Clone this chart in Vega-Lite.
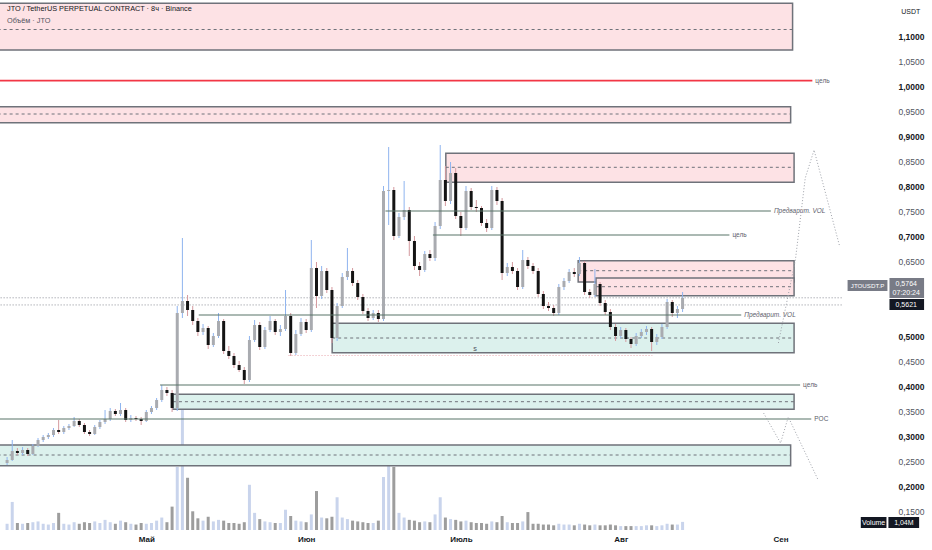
{
  "$schema": "https://vega.github.io/schema/vega-lite/v6.json",
  "width": 848,
  "height": 530,
  "autosize": {"type": "none"},
  "padding": {"left": 0, "top": 0, "right": 84, "bottom": 20},
  "background": "#ffffff",
  "config": {
    "view": {"stroke": null},
    "font": "Liberation Sans",
    "text": {"font": "Liberation Sans"}
  },
  "datasets": {
    "candles": [
      {"t": "2025-04-04", "o": 0.246, "h": 0.258, "l": 0.242, "c": 0.252, "v": 0.8},
      {"t": "2025-04-05", "o": 0.252, "h": 0.292, "l": 0.250, "c": 0.270, "v": 3.6},
      {"t": "2025-04-06", "o": 0.270, "h": 0.276, "l": 0.262, "c": 0.266, "v": 0.9},
      {"t": "2025-04-07", "o": 0.266, "h": 0.278, "l": 0.262, "c": 0.272, "v": 0.8},
      {"t": "2025-04-08", "o": 0.272, "h": 0.276, "l": 0.260, "c": 0.264, "v": 0.9},
      {"t": "2025-04-09", "o": 0.264, "h": 0.284, "l": 0.262, "c": 0.280, "v": 1.0},
      {"t": "2025-04-10", "o": 0.280, "h": 0.296, "l": 0.278, "c": 0.292, "v": 1.1},
      {"t": "2025-04-11", "o": 0.292, "h": 0.302, "l": 0.288, "c": 0.298, "v": 0.8},
      {"t": "2025-04-12", "o": 0.298, "h": 0.306, "l": 0.294, "c": 0.302, "v": 0.7},
      {"t": "2025-04-13", "o": 0.302, "h": 0.316, "l": 0.298, "c": 0.312, "v": 0.9},
      {"t": "2025-04-14", "o": 0.312, "h": 0.332, "l": 0.304, "c": 0.308, "v": 2.2},
      {"t": "2025-04-15", "o": 0.308, "h": 0.320, "l": 0.304, "c": 0.316, "v": 0.8},
      {"t": "2025-04-16", "o": 0.316, "h": 0.324, "l": 0.312, "c": 0.320, "v": 0.7},
      {"t": "2025-04-17", "o": 0.320, "h": 0.338, "l": 0.318, "c": 0.330, "v": 1.0},
      {"t": "2025-04-18", "o": 0.330, "h": 0.334, "l": 0.318, "c": 0.322, "v": 0.8},
      {"t": "2025-04-19", "o": 0.322, "h": 0.326, "l": 0.304, "c": 0.308, "v": 1.0},
      {"t": "2025-04-20", "o": 0.308, "h": 0.312, "l": 0.300, "c": 0.304, "v": 0.9},
      {"t": "2025-04-21", "o": 0.304, "h": 0.322, "l": 0.302, "c": 0.318, "v": 1.1},
      {"t": "2025-04-22", "o": 0.318, "h": 0.332, "l": 0.314, "c": 0.328, "v": 0.9},
      {"t": "2025-04-23", "o": 0.328, "h": 0.352, "l": 0.324, "c": 0.334, "v": 1.3},
      {"t": "2025-04-24", "o": 0.334, "h": 0.356, "l": 0.330, "c": 0.350, "v": 1.0},
      {"t": "2025-04-25", "o": 0.350, "h": 0.354, "l": 0.340, "c": 0.344, "v": 0.8},
      {"t": "2025-04-26", "o": 0.344, "h": 0.366, "l": 0.340, "c": 0.352, "v": 1.2},
      {"t": "2025-04-27", "o": 0.352, "h": 0.356, "l": 0.328, "c": 0.332, "v": 1.0},
      {"t": "2025-04-28", "o": 0.332, "h": 0.342, "l": 0.328, "c": 0.336, "v": 0.8},
      {"t": "2025-04-29", "o": 0.336, "h": 0.340, "l": 0.330, "c": 0.334, "v": 0.7},
      {"t": "2025-04-30", "o": 0.334, "h": 0.338, "l": 0.322, "c": 0.330, "v": 0.9},
      {"t": "2025-05-01", "o": 0.330, "h": 0.352, "l": 0.328, "c": 0.348, "v": 0.8},
      {"t": "2025-05-02", "o": 0.348, "h": 0.360, "l": 0.344, "c": 0.356, "v": 0.9},
      {"t": "2025-05-03", "o": 0.356, "h": 0.376, "l": 0.352, "c": 0.372, "v": 1.2},
      {"t": "2025-05-04", "o": 0.372, "h": 0.402, "l": 0.368, "c": 0.392, "v": 1.6},
      {"t": "2025-05-05", "o": 0.392, "h": 0.398, "l": 0.380, "c": 0.386, "v": 1.0},
      {"t": "2025-05-06", "o": 0.386, "h": 0.392, "l": 0.348, "c": 0.356, "v": 3.0},
      {"t": "2025-05-07", "o": 0.356, "h": 0.560, "l": 0.350, "c": 0.546, "v": 8.1},
      {"t": "2025-05-08", "o": 0.546, "h": 0.696, "l": 0.536, "c": 0.570, "v": 17.0},
      {"t": "2025-05-09", "o": 0.570, "h": 0.582, "l": 0.540, "c": 0.552, "v": 6.7},
      {"t": "2025-05-10", "o": 0.552, "h": 0.560, "l": 0.522, "c": 0.530, "v": 2.4},
      {"t": "2025-05-11", "o": 0.530, "h": 0.536, "l": 0.500, "c": 0.508, "v": 1.5},
      {"t": "2025-05-12", "o": 0.508, "h": 0.524, "l": 0.502, "c": 0.516, "v": 1.2},
      {"t": "2025-05-13", "o": 0.516, "h": 0.520, "l": 0.474, "c": 0.482, "v": 1.7},
      {"t": "2025-05-14", "o": 0.482, "h": 0.506, "l": 0.478, "c": 0.500, "v": 1.1},
      {"t": "2025-05-15", "o": 0.500, "h": 0.546, "l": 0.496, "c": 0.530, "v": 1.3},
      {"t": "2025-05-16", "o": 0.530, "h": 0.534, "l": 0.464, "c": 0.470, "v": 1.2},
      {"t": "2025-05-17", "o": 0.470, "h": 0.480, "l": 0.454, "c": 0.460, "v": 0.9},
      {"t": "2025-05-18", "o": 0.460, "h": 0.466, "l": 0.436, "c": 0.442, "v": 0.9},
      {"t": "2025-05-19", "o": 0.442, "h": 0.450, "l": 0.428, "c": 0.432, "v": 0.8},
      {"t": "2025-05-20", "o": 0.432, "h": 0.438, "l": 0.404, "c": 0.412, "v": 1.0},
      {"t": "2025-05-21", "o": 0.412, "h": 0.500, "l": 0.408, "c": 0.492, "v": 5.8},
      {"t": "2025-05-22", "o": 0.492, "h": 0.532, "l": 0.488, "c": 0.522, "v": 2.2},
      {"t": "2025-05-23", "o": 0.522, "h": 0.528, "l": 0.472, "c": 0.478, "v": 1.4},
      {"t": "2025-05-24", "o": 0.478, "h": 0.518, "l": 0.474, "c": 0.512, "v": 1.1},
      {"t": "2025-05-25", "o": 0.512, "h": 0.540, "l": 0.508, "c": 0.530, "v": 1.0},
      {"t": "2025-05-26", "o": 0.530, "h": 0.534, "l": 0.502, "c": 0.508, "v": 0.9},
      {"t": "2025-05-27", "o": 0.508, "h": 0.522, "l": 0.500, "c": 0.514, "v": 0.9},
      {"t": "2025-05-28", "o": 0.514, "h": 0.592, "l": 0.510, "c": 0.540, "v": 2.6},
      {"t": "2025-05-29", "o": 0.540, "h": 0.546, "l": 0.460, "c": 0.466, "v": 1.8},
      {"t": "2025-05-30", "o": 0.466, "h": 0.512, "l": 0.462, "c": 0.504, "v": 1.2},
      {"t": "2025-05-31", "o": 0.504, "h": 0.536, "l": 0.500, "c": 0.528, "v": 1.1},
      {"t": "2025-06-01", "o": 0.528, "h": 0.534, "l": 0.506, "c": 0.512, "v": 1.0},
      {"t": "2025-06-02", "o": 0.512, "h": 0.692, "l": 0.508, "c": 0.636, "v": 2.0},
      {"t": "2025-06-03", "o": 0.636, "h": 0.648, "l": 0.556, "c": 0.580, "v": 5.0},
      {"t": "2025-06-04", "o": 0.580, "h": 0.640, "l": 0.574, "c": 0.630, "v": 1.6},
      {"t": "2025-06-05", "o": 0.630, "h": 0.636, "l": 0.586, "c": 0.592, "v": 1.5},
      {"t": "2025-06-06", "o": 0.592, "h": 0.598, "l": 0.486, "c": 0.496, "v": 1.7},
      {"t": "2025-06-07", "o": 0.496, "h": 0.566, "l": 0.490, "c": 0.560, "v": 4.2},
      {"t": "2025-06-08", "o": 0.560, "h": 0.626, "l": 0.556, "c": 0.618, "v": 1.6},
      {"t": "2025-06-09", "o": 0.618, "h": 0.676, "l": 0.612, "c": 0.630, "v": 1.4},
      {"t": "2025-06-10", "o": 0.630, "h": 0.636, "l": 0.600, "c": 0.606, "v": 1.2},
      {"t": "2025-06-11", "o": 0.606, "h": 0.612, "l": 0.572, "c": 0.578, "v": 1.1},
      {"t": "2025-06-12", "o": 0.578, "h": 0.584, "l": 0.544, "c": 0.550, "v": 1.0},
      {"t": "2025-06-13", "o": 0.550, "h": 0.556, "l": 0.530, "c": 0.536, "v": 0.9},
      {"t": "2025-06-14", "o": 0.536, "h": 0.552, "l": 0.532, "c": 0.546, "v": 0.9},
      {"t": "2025-06-15", "o": 0.546, "h": 0.552, "l": 0.528, "c": 0.534, "v": 1.2},
      {"t": "2025-06-16", "o": 0.534, "h": 0.800, "l": 0.530, "c": 0.790, "v": 6.8},
      {"t": "2025-06-17", "o": 0.790, "h": 0.878, "l": 0.722, "c": 0.792, "v": 8.6},
      {"t": "2025-06-18", "o": 0.792, "h": 0.798, "l": 0.692, "c": 0.700, "v": 8.1},
      {"t": "2025-06-19", "o": 0.700, "h": 0.746, "l": 0.696, "c": 0.738, "v": 2.2},
      {"t": "2025-06-20", "o": 0.738, "h": 0.810, "l": 0.732, "c": 0.752, "v": 1.6},
      {"t": "2025-06-21", "o": 0.752, "h": 0.758, "l": 0.660, "c": 0.690, "v": 1.3},
      {"t": "2025-06-22", "o": 0.690, "h": 0.700, "l": 0.632, "c": 0.640, "v": 1.2},
      {"t": "2025-06-23", "o": 0.640, "h": 0.648, "l": 0.620, "c": 0.632, "v": 1.0},
      {"t": "2025-06-24", "o": 0.632, "h": 0.670, "l": 0.628, "c": 0.664, "v": 1.1},
      {"t": "2025-06-25", "o": 0.664, "h": 0.672, "l": 0.650, "c": 0.656, "v": 1.0},
      {"t": "2025-06-26", "o": 0.656, "h": 0.728, "l": 0.650, "c": 0.720, "v": 2.0},
      {"t": "2025-06-27", "o": 0.720, "h": 0.882, "l": 0.714, "c": 0.812, "v": 4.2},
      {"t": "2025-06-28", "o": 0.812, "h": 0.840, "l": 0.760, "c": 0.770, "v": 1.6},
      {"t": "2025-06-29", "o": 0.770, "h": 0.848, "l": 0.764, "c": 0.826, "v": 1.4},
      {"t": "2025-06-30", "o": 0.826, "h": 0.836, "l": 0.734, "c": 0.740, "v": 1.3},
      {"t": "2025-07-01", "o": 0.740, "h": 0.748, "l": 0.700, "c": 0.716, "v": 1.1},
      {"t": "2025-07-02", "o": 0.716, "h": 0.800, "l": 0.712, "c": 0.790, "v": 1.2},
      {"t": "2025-07-03", "o": 0.790, "h": 0.796, "l": 0.752, "c": 0.758, "v": 1.0},
      {"t": "2025-07-04", "o": 0.758, "h": 0.772, "l": 0.748, "c": 0.756, "v": 0.9},
      {"t": "2025-07-05", "o": 0.756, "h": 0.760, "l": 0.720, "c": 0.726, "v": 0.9},
      {"t": "2025-07-06", "o": 0.726, "h": 0.734, "l": 0.708, "c": 0.716, "v": 0.8},
      {"t": "2025-07-07", "o": 0.716, "h": 0.800, "l": 0.712, "c": 0.792, "v": 1.1},
      {"t": "2025-07-08", "o": 0.792, "h": 0.798, "l": 0.762, "c": 0.770, "v": 1.0},
      {"t": "2025-07-09", "o": 0.770, "h": 0.776, "l": 0.612, "c": 0.626, "v": 1.8},
      {"t": "2025-07-10", "o": 0.626, "h": 0.646, "l": 0.620, "c": 0.638, "v": 1.0},
      {"t": "2025-07-11", "o": 0.638, "h": 0.648, "l": 0.624, "c": 0.630, "v": 0.9},
      {"t": "2025-07-12", "o": 0.630, "h": 0.636, "l": 0.592, "c": 0.598, "v": 0.9},
      {"t": "2025-07-13", "o": 0.598, "h": 0.672, "l": 0.594, "c": 0.652, "v": 1.1},
      {"t": "2025-07-14", "o": 0.652, "h": 0.658, "l": 0.634, "c": 0.640, "v": 2.3},
      {"t": "2025-07-15", "o": 0.640, "h": 0.646, "l": 0.624, "c": 0.630, "v": 0.8},
      {"t": "2025-07-16", "o": 0.630, "h": 0.636, "l": 0.578, "c": 0.584, "v": 0.8},
      {"t": "2025-07-17", "o": 0.584, "h": 0.590, "l": 0.554, "c": 0.560, "v": 0.7},
      {"t": "2025-07-18", "o": 0.560, "h": 0.568, "l": 0.550, "c": 0.556, "v": 0.7},
      {"t": "2025-07-19", "o": 0.556, "h": 0.562, "l": 0.540, "c": 0.546, "v": 0.6},
      {"t": "2025-07-20", "o": 0.546, "h": 0.604, "l": 0.542, "c": 0.598, "v": 0.8},
      {"t": "2025-07-21", "o": 0.598, "h": 0.616, "l": 0.592, "c": 0.610, "v": 0.7},
      {"t": "2025-07-22", "o": 0.610, "h": 0.634, "l": 0.606, "c": 0.628, "v": 0.7},
      {"t": "2025-07-23", "o": 0.628, "h": 0.636, "l": 0.618, "c": 0.624, "v": 0.6},
      {"t": "2025-07-24", "o": 0.624, "h": 0.658, "l": 0.620, "c": 0.646, "v": 0.8},
      {"t": "2025-07-25", "o": 0.646, "h": 0.650, "l": 0.582, "c": 0.588, "v": 0.7},
      {"t": "2025-07-26", "o": 0.588, "h": 0.594, "l": 0.576, "c": 0.582, "v": 0.6},
      {"t": "2025-07-27", "o": 0.582, "h": 0.634, "l": 0.578, "c": 0.604, "v": 0.7},
      {"t": "2025-07-28", "o": 0.604, "h": 0.608, "l": 0.560, "c": 0.566, "v": 0.6},
      {"t": "2025-07-29", "o": 0.566, "h": 0.572, "l": 0.542, "c": 0.548, "v": 0.6},
      {"t": "2025-07-30", "o": 0.548, "h": 0.554, "l": 0.512, "c": 0.518, "v": 0.7},
      {"t": "2025-07-31", "o": 0.518, "h": 0.524, "l": 0.490, "c": 0.500, "v": 0.6},
      {"t": "2025-08-01", "o": 0.500, "h": 0.518, "l": 0.496, "c": 0.512, "v": 0.5},
      {"t": "2025-08-02", "o": 0.512, "h": 0.516, "l": 0.488, "c": 0.494, "v": 0.5},
      {"t": "2025-08-03", "o": 0.494, "h": 0.498, "l": 0.476, "c": 0.484, "v": 0.5},
      {"t": "2025-08-04", "o": 0.484, "h": 0.506, "l": 0.480, "c": 0.500, "v": 0.5},
      {"t": "2025-08-05", "o": 0.500, "h": 0.514, "l": 0.496, "c": 0.508, "v": 0.5},
      {"t": "2025-08-06", "o": 0.508, "h": 0.520, "l": 0.502, "c": 0.514, "v": 0.6},
      {"t": "2025-08-07", "o": 0.514, "h": 0.518, "l": 0.470, "c": 0.488, "v": 0.6},
      {"t": "2025-08-08", "o": 0.488, "h": 0.504, "l": 0.482, "c": 0.498, "v": 0.5},
      {"t": "2025-08-09", "o": 0.498, "h": 0.524, "l": 0.494, "c": 0.518, "v": 0.6},
      {"t": "2025-08-10", "o": 0.518, "h": 0.574, "l": 0.514, "c": 0.568, "v": 0.8},
      {"t": "2025-08-11", "o": 0.568, "h": 0.572, "l": 0.538, "c": 0.546, "v": 0.7},
      {"t": "2025-08-12", "o": 0.546, "h": 0.560, "l": 0.536, "c": 0.554, "v": 0.7},
      {"t": "2025-08-13", "o": 0.554, "h": 0.588, "l": 0.548, "c": 0.5764, "v": 1.04}
    ],
    "zones": [
      {"t1": "2025-04-01", "t2": "2025-09-03T08:00:00Z", "p1": 1.0720, "p2": 1.1653, "mid": 1.113, "k": "pink"},
      {"t1": "2025-04-01", "t2": "2025-09-02T23:00:00Z", "p1": 0.9266, "p2": 0.9587, "mid": 0.944, "k": "pink"},
      {"t1": "2025-06-28T02:00:00Z", "t2": "2025-09-03T15:00:00Z", "p1": 0.8074, "p2": 0.8653, "mid": 0.8374, "k": "pink"},
      {"t1": "2025-07-23T18:00:00Z", "t2": "2025-09-03T15:00:00Z", "p1": 0.6080, "p2": 0.6506, "mid": 0.6306, "k": "pink"},
      {"t1": "2025-07-27T05:00:00Z", "t2": "2025-09-03T15:00:00Z", "p1": 0.5806, "p2": 0.6160, "mid": 0.5986, "k": "pink"},
      {"t1": "2025-06-06T01:00:00Z", "t2": "2025-09-03T15:00:00Z", "p1": 0.4666, "p2": 0.5254, "mid": 0.496, "k": "green"},
      {"t1": "2025-05-06T04:00:00Z", "t2": "2025-09-03T15:00:00Z", "p1": 0.3534, "p2": 0.3834, "mid": 0.3686, "k": "green"},
      {"t1": "2025-04-01", "t2": "2025-09-02T23:00:00Z", "p1": 0.2407, "p2": 0.2820, "mid": 0.262, "k": "green"}
    ],
    "dotted": [
      {"t1": "2025-04-01", "t2": "2025-09-13T02:40:00Z", "p": 0.5764, "k": "price"},
      {"t1": "2025-04-01", "t2": "2025-09-13T02:40:00Z", "p": 0.5621, "k": "price"},
      {"t1": "2025-05-28T14:00:00Z", "t2": "2025-08-07T03:00:00Z", "p": 0.461, "k": "low"}
    ],
    "levels": [
      {"t1": "2025-04-01", "t2": "2025-09-07T04:00:00Z", "p": 1.0107, "label": "цель", "k": "red"},
      {"t1": "2025-06-16T09:00:00Z", "t2": "2025-08-30T03:00:00Z", "p": 0.750, "label": "Предварит. VOL", "k": "line"},
      {"t1": "2025-06-25T14:00:00Z", "t2": "2025-08-22T02:00:00Z", "p": 0.702, "label": "цель", "k": "line"},
      {"t1": "2025-05-11T04:00:00Z", "t2": "2025-08-24T09:00:00Z", "p": 0.542, "label": "Предварит. VOL", "k": "line"},
      {"t1": "2025-05-03T16:00:00Z", "t2": "2025-09-04T19:00:00Z", "p": 0.402, "label": "цель", "k": "line"},
      {"t1": "2025-04-01", "t2": "2025-09-06T23:00:00Z", "p": 0.334, "label": "POC", "k": "line"}
    ],
    "paths": [
      {"g": "up", "i": 1, "t": "2025-08-31T14:00:00Z", "p": 0.486},
      {"g": "up", "i": 2, "t": "2025-09-03T21:00:00Z", "p": 0.652},
      {"g": "up", "i": 3, "t": "2025-09-05T19:00:00Z", "p": 0.816},
      {"g": "up", "i": 4, "t": "2025-09-07T12:00:00Z", "p": 0.872},
      {"g": "up", "i": 5, "t": "2025-09-12T12:00:00Z", "p": 0.678},
      {"g": "down", "i": 1, "t": "2025-08-28T17:00:00Z", "p": 0.346},
      {"g": "down", "i": 2, "t": "2025-09-01T00:00:00Z", "p": 0.286},
      {"g": "down", "i": 3, "t": "2025-09-02T12:00:00Z", "p": 0.338},
      {"g": "down", "i": 4, "t": "2025-09-08T07:00:00Z", "p": 0.212}
    ],
    "notes": [
      {"t": "2025-04-03T14:17:00Z", "p": 1.154, "text": "JTO / TetherUS PERPETUAL CONTRACT · 8ч · Binance", "k": "title"},
      {"t": "2025-04-03T14:17:00Z", "p": 1.131, "text": "Объём · JTO", "k": "sub"},
      {"t": "2025-07-03T00:00:00Z", "p": 0.474, "text": "s", "k": "sub"}
    ],
    "tags": [
      {"t1": "2025-09-14T00:00:00Z", "t2": "2025-09-21T17:30:00Z", "p1": 0.590, "p2": 0.612, "k": "gray"},
      {"t1": "2025-09-22T03:00:00Z", "t2": "2025-09-28T20:00:00Z", "p1": 0.576, "p2": 0.616, "k": "gray"},
      {"t1": "2025-09-22T03:00:00Z", "t2": "2025-09-28T20:00:00Z", "p1": 0.552, "p2": 0.574, "k": "black"},
      {"t1": "2025-09-16T13:30:00Z", "t2": "2025-09-21T13:00:00Z", "p1": 0.116, "p2": 0.138, "k": "black"},
      {"t1": "2025-09-21T22:00:00Z", "t2": "2025-09-27T21:00:00Z", "p1": 0.116, "p2": 0.138, "k": "black"}
    ],
    "tagtext": [
      {"t": "2025-09-17T21:00:00Z", "p": 0.601, "text": "JTOUSDT.P", "k": "s"},
      {"t": "2025-09-25T09:00:00Z", "p": 0.604, "text": "0,5764", "k": "w"},
      {"t": "2025-09-25T09:00:00Z", "p": 0.586, "text": "07:20:24", "k": "w"},
      {"t": "2025-09-25T09:00:00Z", "p": 0.563, "text": "0,5621", "k": "w"},
      {"t": "2025-09-19T01:00:00Z", "p": 0.127, "text": "Volume", "k": "w"},
      {"t": "2025-09-24T22:00:00Z", "p": 0.127, "text": "1,04M", "k": "w"},
      {"t": "2025-09-26T06:00:00Z", "p": 1.148, "text": "USDT", "k": "d"}
    ]
  },
  "layer": [
    {
      "data": {"name": "candles"},
      "mark": {"type": "bar", "size": 3},
      "encoding": {
        "x": {
          "field": "t", "type": "temporal", "title": null,
          "scale": {"type": "utc", "domain": [
            {"year": 2025, "month": 4, "date": 3, "hours": 14, "minutes": 17, "utc": true},
            {"year": 2025, "month": 9, "date": 13, "hours": 2, "minutes": 40, "utc": true}
          ]},
          "axis": {
            "values": [
              {"year": 2025, "month": 5, "date": 1, "utc": true},
              {"year": 2025, "month": 6, "date": 1, "utc": true},
              {"year": 2025, "month": 7, "date": 1, "utc": true},
              {"year": 2025, "month": 8, "date": 1, "utc": true},
              {"year": 2025, "month": 9, "date": 1, "utc": true}
            ],
            "tickCount": 10,
            "labelExpr": "['Май','Июн','Июль','Авг','Сен'][utcmonth(datum.value) - 4]",
            "domain": false, "ticks": false, "grid": false,
            "labelFontSize": 8, "labelFontWeight": "bold", "labelColor": "#131722",
            "labelPadding": 5, "labelFont": "Liberation Sans"
          }
        },
        "y": {"field": "v", "type": "quantitative", "title": null, "scale": {"domain": [0, 68], "nice": false}, "axis": null},
        "color": {"condition": {"test": "datum.c >= datum.o", "value": "#c9d4ec"}, "value": "#9d9d9d"}
      }
    },
    {
      "layer": [
        {
          "data": {"name": "zones"},
          "mark": {"type": "rect", "stroke": "#6f727a", "strokeWidth": 1.5, "clip": true},
          "encoding": {
            "x": {"field": "t1", "type": "temporal", "title": null},
            "x2": {"field": "t2"},
            "y": {
              "field": "p1", "type": "quantitative", "title": null,
              "scale": {"domain": [0.112, 1.172], "nice": false, "zero": false},
              "axis": {
                "orient": "right",
                "values": [0.15, 0.2, 0.25, 0.3, 0.35, 0.4, 0.45, 0.5, 0.65, 0.7, 0.75, 0.8, 0.85, 0.9, 0.95, 1.0, 1.05, 1.1],
                "tickCount": 40,
                "labelExpr": "replace(format(datum.value, '.4f'), '.', ',')",
                "domain": false, "ticks": false, "grid": false,
                "labelPadding": 50, "labelFontSize": 8.5, "labelFont": "Liberation Sans",
                "labelOverlap": false, "labelBound": false, "labelFlush": false,
                "labelColor": {"condition": {"test": "round(datum.value * 100) % 10 == 0", "value": "#131722"}, "value": "#50535e"},
                "labelFontWeight": {"condition": {"test": "round(datum.value * 100) % 10 == 0", "value": "bold"}, "value": "normal"}
              }
            },
            "y2": {"field": "p2"},
            "fill": {"condition": {"test": "datum.k == 'green'", "value": "#dcf1ed"}, "value": "#fde2e5"}
          }
        },
        {
          "data": {"name": "zones"},
          "mark": {"type": "rule", "stroke": "#6f727a", "strokeWidth": 1, "strokeDash": [3, 3], "clip": true},
          "encoding": {
            "x": {"field": "t1", "type": "temporal", "title": null},
            "x2": {"field": "t2"},
            "y": {"field": "mid", "type": "quantitative", "title": null}
          }
        },
        {
          "data": {"name": "dotted"},
          "mark": {"type": "rule", "strokeWidth": 1, "strokeDash": [1, 2], "clip": true},
          "encoding": {
            "x": {"field": "t1", "type": "temporal", "title": null},
            "x2": {"field": "t2"},
            "y": {"field": "p", "type": "quantitative", "title": null},
            "color": {"condition": {"test": "datum.k == 'low'", "value": "#e8a6ad"}, "value": "#8a8d96"}
          }
        },
        {
          "data": {"name": "candles"},
          "mark": {"type": "rule", "strokeWidth": 1, "clip": true},
          "encoding": {
            "x": {"field": "t", "type": "temporal", "title": null},
            "y": {"field": "l", "type": "quantitative", "title": null},
            "y2": {"field": "h"},
            "color": {"condition": {"test": "datum.c >= datum.o", "value": "#8fb4ef"}, "value": "#d49a9f"}
          }
        },
        {
          "data": {"name": "candles"},
          "mark": {"type": "bar", "size": 3, "clip": true},
          "encoding": {
            "x": {"field": "t", "type": "temporal", "title": null},
            "y": {"field": "o", "type": "quantitative", "title": null},
            "y2": {"field": "c"},
            "color": {"condition": {"test": "datum.c >= datum.o", "value": "#a9abb0"}, "value": "#141414"}
          }
        },
        {
          "data": {"name": "levels"},
          "mark": {"type": "rule", "clip": true},
          "encoding": {
            "x": {"field": "t1", "type": "temporal", "title": null},
            "x2": {"field": "t2"},
            "y": {"field": "p", "type": "quantitative", "title": null},
            "color": {"condition": {"test": "datum.k == 'red'", "value": "#f23645"}, "value": "#587568"},
            "strokeWidth": {"condition": {"test": "datum.k == 'red'", "value": 1.6}, "value": 1.2}
          }
        },
        {
          "data": {"name": "levels"},
          "transform": [{"filter": "datum.label != 'Предварит. VOL'"}],
          "mark": {"type": "text", "align": "left", "baseline": "middle", "dx": 3, "fontSize": 6.5, "color": "#5d606b", "clip": true},
          "encoding": {
            "x": {"field": "t2", "type": "temporal", "title": null},
            "y": {"field": "p", "type": "quantitative", "title": null},
            "text": {"field": "label"}
          }
        },
        {
          "data": {"name": "levels"},
          "transform": [{"filter": "datum.label == 'Предварит. VOL'"}],
          "mark": {"type": "text", "align": "left", "baseline": "middle", "dx": 3, "fontSize": 6.5, "fontStyle": "italic", "color": "#5d606b", "clip": true},
          "encoding": {
            "x": {"field": "t2", "type": "temporal", "title": null},
            "y": {"field": "p", "type": "quantitative", "title": null},
            "text": {"field": "label"}
          }
        },
        {
          "data": {"name": "paths"},
          "mark": {"type": "line", "stroke": "#9ea1a9", "strokeWidth": 1, "strokeDash": [1, 2], "clip": true},
          "encoding": {
            "x": {"field": "t", "type": "temporal", "title": null},
            "y": {"field": "p", "type": "quantitative", "title": null},
            "detail": {"field": "g"},
            "order": {"field": "i"}
          }
        },
        {
          "data": {"name": "notes"},
          "mark": {"type": "text", "align": "left", "baseline": "middle", "dx": 2, "fontSize": 7.3},
          "encoding": {
            "x": {"field": "t", "type": "temporal", "title": null},
            "y": {"field": "p", "type": "quantitative", "title": null},
            "text": {"field": "text"},
            "color": {"condition": {"test": "datum.k == 'title'", "value": "#131722"}, "value": "#50535e"},
            "fontWeight": {"condition": {"test": "datum.k == 'title'", "value": "bold"}, "value": "normal"}
          }
        },
        {
          "data": {"name": "tags"},
          "mark": {"type": "rect", "clip": false},
          "encoding": {
            "x": {"field": "t1", "type": "temporal", "title": null},
            "x2": {"field": "t2"},
            "y": {"field": "p1", "type": "quantitative", "title": null},
            "y2": {"field": "p2"},
            "fill": {"condition": {"test": "datum.k == 'gray'", "value": "#787b86"}, "value": "#131722"}
          }
        },
        {
          "data": {"name": "tagtext"},
          "mark": {"type": "text", "align": "center", "baseline": "middle", "clip": false},
          "encoding": {
            "x": {"field": "t", "type": "temporal", "title": null},
            "y": {"field": "p", "type": "quantitative", "title": null},
            "text": {"field": "text"},
            "color": {"condition": {"test": "datum.k == 'd'", "value": "#131722"}, "value": "#ffffff"},
            "size": {"condition": {"test": "datum.k == 's'", "value": 6.2}, "value": 7}
          }
        }
      ]
    }
  ],
  "resolve": {"scale": {"y": "independent"}}
}
